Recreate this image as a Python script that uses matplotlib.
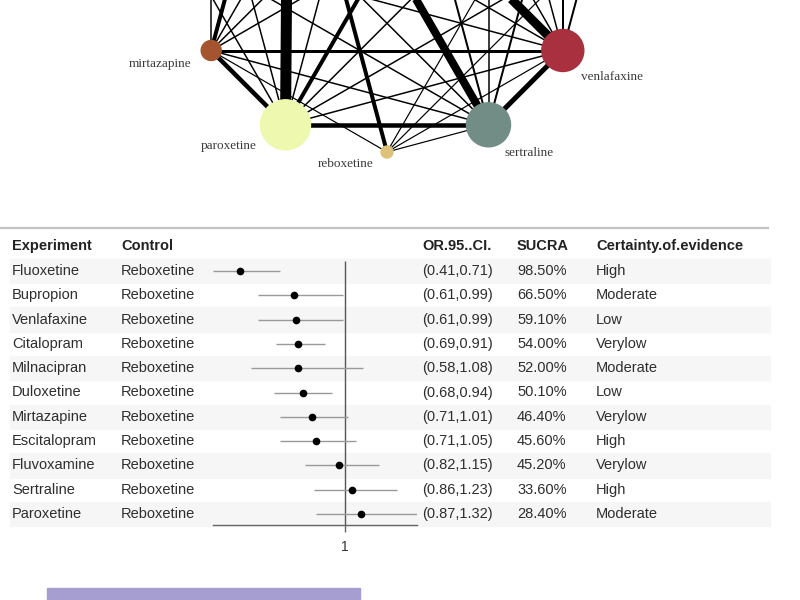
import matplotlib.pyplot as plt
import numpy as np
from matplotlib.patches import Circle, Rectangle

plt.rcParams['font.family'] = ['Liberation Sans', 'DejaVu Sans']

# --- network (nodes sit round a circle, alphabetical, starting at 0 deg) ---
drugs = ['bupropion', 'citalopram', 'duloxetine', 'escitalopram', 'fluoxetine',
         'fluvoxamine', 'milnacipran', 'mirtazapine', 'paroxetine', 'reboxetine',
         'sertraline', 'venlafaxine']
node_r = [18, 18, 16, 18, 26, 12, 10, 10, 25, 6, 22, 21]   # px
node_col = ['#6b8e23', '#4682b4', '#8b6914', '#7b68ee', '#cd5c5c', '#5f9ea0',
            '#d2b48c', '#a4552f', '#eef8ae', '#dcc27a', '#728c86', '#a8303f']
# (a, b, width in px)
edges = [('fluoxetine', 'paroxetine', 11), ('fluoxetine', 'sertraline', 8),
         ('fluoxetine', 'venlafaxine', 9), ('fluoxetine', 'reboxetine', 4),
         ('fluoxetine', 'mirtazapine', 4), ('paroxetine', 'mirtazapine', 4.5),
         ('paroxetine', 'sertraline', 4.5), ('paroxetine', 'duloxetine', 4),
         ('sertraline', 'venlafaxine', 5), ('mirtazapine', 'venlafaxine', 3),
         ('paroxetine', 'escitalopram', 1.5), ('paroxetine', 'citalopram', 1.5),
         ('paroxetine', 'bupropion', 1.5), ('paroxetine', 'venlafaxine', 1.5),
         ('paroxetine', 'fluvoxamine', 1.5), ('paroxetine', 'milnacipran', 1.5),
         ('mirtazapine', 'fluvoxamine', 1.5), ('mirtazapine', 'escitalopram', 1.5),
         ('mirtazapine', 'duloxetine', 1.5), ('mirtazapine', 'sertraline', 1.5),
         ('mirtazapine', 'citalopram', 1.5), ('mirtazapine', 'reboxetine', 1.2),
         ('reboxetine', 'sertraline', 1.2), ('reboxetine', 'venlafaxine', 1.2),
         ('reboxetine', 'citalopram', 1.2), ('reboxetine', 'bupropion', 1.2),
         ('sertraline', 'escitalopram', 2), ('sertraline', 'duloxetine', 1.5),
         ('sertraline', 'citalopram', 2), ('sertraline', 'milnacipran', 1.5),
         ('sertraline', 'fluvoxamine', 1.5), ('venlafaxine', 'citalopram', 2),
         ('venlafaxine', 'bupropion', 2), ('venlafaxine', 'escitalopram', 1.5),
         ('venlafaxine', 'duloxetine', 1.5), ('venlafaxine', 'milnacipran', 1.5),
         ('venlafaxine', 'fluvoxamine', 1.5)]
# label offsets from node centre, px (right, down)
label_off = {'mirtazapine': (-51, 13), 'paroxetine': (-57, 21), 'reboxetine': (-41, 12),
             'sertraline': (41, 28), 'venlafaxine': (49, 27)}

# --- forest plot / table ---
experiment = ['Fluoxetine', 'Bupropion', 'Venlafaxine', 'Citalopram', 'Milnacipran',
              'Duloxetine', 'Mirtazapine', 'Escitalopram', 'Fluvoxamine', 'Sertraline',
              'Paroxetine']
control = ['Reboxetine'] * 11
or_est = [0.53, 0.77, 0.78, 0.79, 0.79, 0.81, 0.85, 0.87, 0.97, 1.03, 1.07]
ci_lo = [0.41, 0.61, 0.61, 0.69, 0.58, 0.68, 0.71, 0.71, 0.82, 0.86, 0.87]
ci_hi = [0.71, 0.99, 0.99, 0.91, 1.08, 0.94, 1.01, 1.05, 1.15, 1.23, 1.32]
sucra = ['98.50%', '66.50%', '59.10%', '54.00%', '52.00%', '50.10%', '46.40%',
         '45.60%', '45.20%', '33.60%', '28.40%']
certainty = ['High', 'Moderate', 'Low', 'Verylow', 'Moderate', 'Low', 'Verylow',
             'High', 'Verylow', 'High', 'Moderate']
headers = ['Experiment', 'Control', 'OR.95..CI.', 'SUCRA', 'Certainty.of.evidence']

W, H = 800, 600
fig = plt.figure(figsize=(8, 6), dpi=100)

# network axes: circle radius 203 px, centre at (387, -51) px
R, cx, cy = 203.0, 387.0, -51.0
net = fig.add_axes([0, 1 - 200 / H, 1, 200 / H])
net.set_xlim(-cx / R, (W - cx) / R)
net.set_ylim(-(200 - cy) / R, cy / R)
net.axis('off')
ang = np.deg2rad(np.arange(len(drugs)) * 360 / len(drugs))
pos = {d: (np.cos(a), np.sin(a)) for d, a in zip(drugs, ang)}
for a, b, w in edges:
    net.plot([pos[a][0], pos[b][0]], [pos[a][1], pos[b][1]], color='black',
             lw=w * 0.72, solid_capstyle='butt', zorder=1)
for d, r, c in zip(drugs, node_r, node_col):
    net.add_patch(Circle(pos[d], r / R, color=c, zorder=2))
    if d in label_off:
        dx, dy = label_off[d]
        net.text(pos[d][0] + dx / R, pos[d][1] - dy / R, d, ha='center', va='center',
                 family='Liberation Serif', fontsize=9.5, color='#3a3a3a')

# table axes
row0, step = 271.0, 24.3
def row(px):
    return (px - row0) / step

tab = fig.add_axes([0, 1 - 560 / H, 1, (560 - 228) / H])
tab.set_ylim(row(560), row(228))
tab.set_xlim(0, 1)
tab.axis('off')
n = len(experiment)
for i in range(0, n, 2):
    tab.axhspan(i - 0.5, i + 0.5, xmin=0.012, xmax=0.962, color='#f6f6f6', zorder=0)
tab.axhline(row(227.5), xmin=0, xmax=0.96, color='#c4c4c4', lw=1.6, clip_on=False)

col_x = [12 / W, 121 / W, 422 / W, 517 / W, 596 / W]
for x, h in zip(col_x, headers):
    tab.text(x, row(246), h, fontsize=10.5, fontweight='bold', color='#222222',
             va='center')
for i in range(n):
    vals = [experiment[i], control[i], f'({ci_lo[i]:.2f},{ci_hi[i]:.2f})', sucra[i],
            certainty[i]]
    for x, v in zip(col_x, vals):
        tab.text(x, i, v, fontsize=10.5, color='#2e2e2e', va='center')

# forest axes
fa = fig.add_axes([213 / W, 1 - 525 / H, (417 - 213) / W, (525 - 228) / H])
fa.patch.set_alpha(0)
fa.set_xlim(min(ci_lo), max(ci_hi))
fa.set_ylim(row(525), row(228))
for s in ['top', 'left', 'right']:
    fa.spines[s].set_visible(False)
fa.spines['bottom'].set_color('#666666')
fa.spines['bottom'].set_linewidth(1.0)
fa.set_yticks([])
fa.set_xticks([1])
fa.set_xticklabels(['1'])
fa.tick_params(axis='x', length=5, width=1, color='#666666', labelsize=10,
               labelcolor='#333333', pad=6)
fa.vlines(1, row(261), row(525), color='#555555', lw=1.0)
y = np.arange(n)
fa.hlines(y, ci_lo, ci_hi, color='#999999', lw=1.0)
fa.plot(or_est, y, 'o', color='black', ms=4.5)

# purple header strip at the bottom (cut off)
fig.patches.append(Rectangle((47 / W, 0), (360 - 47) / W, 12 / H,
                             transform=fig.transFigure, color='#a69ed0'))

fig.savefig('out.png', dpi=100)
